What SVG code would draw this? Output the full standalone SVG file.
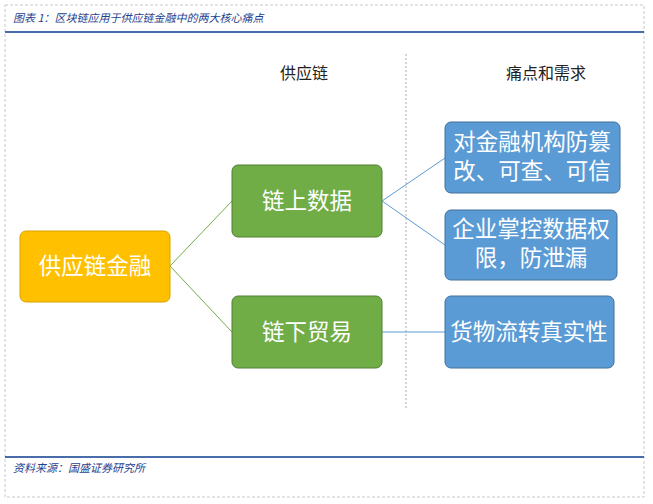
<svg xmlns="http://www.w3.org/2000/svg" width="653" height="504" viewBox="0 0 653 504">
<style>
.t{font-family:"Noto Sans CJK SC",sans-serif;fill:#fff;font-size:22.5px;text-anchor:middle}
.h{font-family:"Noto Sans CJK SC",sans-serif;fill:#222;font-size:16px;text-anchor:middle}
.cap{font-family:"Noto Sans CJK SC",sans-serif;fill:#1f3f8f;font-size:11px;font-style:italic}
.b{fill:#5B9BD5;stroke:#41719C;stroke-width:1}
.g{fill:#70AD47;stroke:#507E32;stroke-width:1}
</style>
<rect width="653" height="504" fill="#fff"/>
<rect x="5" y="5" width="639" height="492" fill="none" stroke="#c8c8c8" stroke-dasharray="3,2"/>
<line x1="5" y1="32" x2="644" y2="32" stroke="#0d3d8f" stroke-width="1.5"/>
<line x1="5" y1="457" x2="644" y2="457" stroke="#0d3d8f" stroke-width="1.5"/>
<text class="cap" x="13" y="22">图表 1：区块链应用于供应链金融中的两大核心痛点</text>
<text class="cap" x="13" y="472">资料来源：国盛证券研究所</text>
<text class="h" x="304" y="79">供应链</text>
<text class="h" x="546" y="79">痛点和需求</text>
<line x1="406" y1="54" x2="406" y2="410" stroke="#aaa" stroke-dasharray="2,2"/>
<g id="connectors" fill="none">
<path d="M170 266L232 201M170 266L232 332" stroke="#70AD47"/>
<path d="M382 201L445 158M382 201L445 245M382 332L445 332" stroke="#5B9BD5"/>
</g>
<g id="n1"><rect x="20" y="231" width="150" height="71" rx="6" fill="#FFC000" stroke="#D9A300"/><text class="t" x="95" y="274">供应链金融</text></g>
<g id="n2"><rect class="g" x="232" y="165" width="150" height="72" rx="6"/><text class="t" x="307" y="209">链上数据</text></g>
<g id="n3"><rect class="g" x="232" y="296" width="150" height="72" rx="6"/><text class="t" x="307" y="340">链下贸易</text></g>
<g id="n4"><rect class="b" x="445" y="122" width="175" height="71" rx="6"/><text class="t" x="532" y="150">对金融机构防篡</text><text class="t" x="532" y="179">改、可查、可信</text></g>
<g id="n5"><rect class="b" x="445" y="210" width="172" height="70" rx="6"/><text class="t" x="531" y="237">企业掌控数据权</text><text class="t" x="531" y="266">限，防泄漏</text></g>
<g id="n6"><rect class="b" x="445" y="296" width="169" height="72" rx="6"/><text class="t" x="529" y="340">货物流转真实性</text></g>
</svg>
